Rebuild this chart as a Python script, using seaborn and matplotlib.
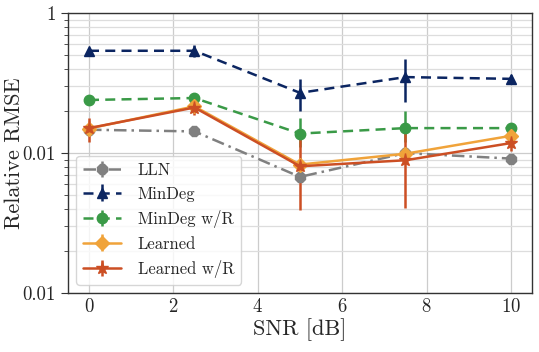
import matplotlib
matplotlib.use("Agg")
import matplotlib.pyplot as plt
import matplotlib.ticker as mticker
import numpy as np
import seaborn as sns

# SNR values [dB]
snr = [0, 2.5, 5, 7.5, 10]

# mean relative RMSE and error-bar bounds
lln = [0.147, 0.143, 0.0676, 0.100, 0.0914]
lln_lo = [0.142, 0.138, 0.064, 0.096, 0.088]
lln_hi = [0.152, 0.149, 0.071, 0.105, 0.095]

mindeg = [0.54, 0.54, 0.27, 0.35, 0.34]
mindeg_lo = [0.53, 0.49, 0.201, 0.234, 0.32]
mindeg_hi = [0.55, 0.596, 0.337, 0.471, 0.36]

mindeg_r = [0.24, 0.248, 0.138, 0.151, 0.151]
mindeg_r_lo = [0.235, 0.228, 0.11, 0.12, 0.147]
mindeg_r_hi = [0.245, 0.27, 0.179, 0.20, 0.156]

learned = [0.150, 0.216, 0.0828, 0.099, 0.133]
learned_lo = [0.145, 0.209, 0.079, 0.095, 0.128]
learned_hi = [0.155, 0.223, 0.087, 0.103, 0.138]

learned_r = [0.151, 0.212, 0.0805, 0.0889, 0.118]
learned_r_lo = [0.121, 0.188, 0.039, 0.0407, 0.103]
learned_r_hi = [0.178, 0.228, 0.139, 0.143, 0.135]

labels = ["LLN", "MinDeg", "MinDeg w/R", "Learned", "Learned w/R"]
ytick_vals = [0.01, 0.1, 1]
ytick_labels = ["0.01", "0.01", "1"]


def add_series(ax, y, lo, hi, label, color, marker, ls, ms):
    y = np.array(y)
    yerr = np.vstack([y - np.array(lo), np.array(hi) - y])
    ax.errorbar(snr, y, yerr=yerr, label=label, color=color, marker=marker,
                linestyle=ls, linewidth=1.8, markersize=ms, elinewidth=1.8,
                capsize=0)


sns.set_theme(style="whitegrid")
plt.rcParams["font.family"] = "serif"
plt.rcParams["font.serif"] = ["cmr10"]
plt.rcParams["mathtext.fontset"] = "cm"
plt.rcParams["axes.formatter.use_mathtext"] = True

fig = plt.figure(figsize=(5.39, 3.52), dpi=100)
ax = fig.add_axes([0.126, 0.168, 0.861, 0.794])

add_series(ax, lln, lln_lo, lln_hi, labels[0], "#808080", "8", (0, (5, 2, 1, 2)), 7.5)
add_series(ax, mindeg, mindeg_lo, mindeg_hi, labels[1], "#0b2561", "^", (0, (4, 2.5)), 7.5)
add_series(ax, mindeg_r, mindeg_r_lo, mindeg_r_hi, labels[2], "#3a9a47", "o", (0, (4, 2.5)), 7.5)
add_series(ax, learned, learned_lo, learned_hi, labels[3], "#f0a33a", "D", "-", 7)
add_series(ax, learned_r, learned_r_lo, learned_r_hi, labels[4], "#cc4f24", "*", "-", 9.5)

ax.set_yscale("log")
ax.set_ylim(0.01, 1)
ax.set_xlim(-0.5, 10.5)
ax.set_xticks([0, 2, 4, 6, 8, 10])
ax.yaxis.set_major_locator(mticker.FixedLocator(ytick_vals))
ax.yaxis.set_major_formatter(mticker.FixedFormatter(ytick_labels))
ax.yaxis.set_minor_locator(mticker.LogLocator(base=10, subs=np.arange(2, 10)))
ax.yaxis.set_minor_formatter(mticker.NullFormatter())

ax.grid(True, which="major", color="#cccccc", linewidth=0.9)
ax.grid(True, which="minor", axis="y", color="#dddddd", linewidth=0.9)
ax.tick_params(axis="y", which="major", left=True, length=5, width=0.8,
               color="#333333", labelsize=13.5)
ax.tick_params(axis="y", which="minor", left=True, length=3, width=0.6,
               color="#333333")
ax.tick_params(axis="x", labelsize=13.5, length=0)
for sp in ax.spines.values():
    sp.set_edgecolor("#333333")
    sp.set_linewidth(1.0)

ax.set_xlabel("SNR [dB]", fontsize=16, labelpad=2)
ax.set_ylabel("Relative RMSE", fontsize=16)
ax.yaxis.set_label_coords(-0.095, 0.5)
ax.legend(loc="lower left", fontsize=12, frameon=True, framealpha=0.8,
          edgecolor="#cccccc", handlelength=2.3, handletextpad=1.0,
          borderpad=0.4, labelspacing=0.5)

fig.savefig("out.png", dpi=100)
